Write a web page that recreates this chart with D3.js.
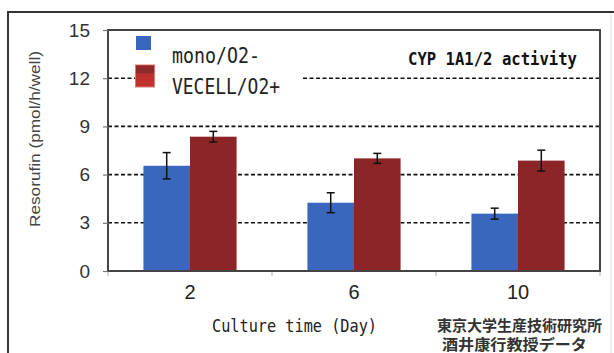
<!DOCTYPE html>
<html><head><meta charset="utf-8">
<script src="https://cdn.jsdelivr.net/npm/d3@7"></script>
<style>html,body{margin:0;padding:0;background:#fff;}svg{display:block;}</style>
</head><body>
<script>
const categories = ["2", "6", "10"];
const seriesNames = ["mono/O2-", "VECELL/O2+"];
const monoValues = [6.55, 4.25, 3.57];
const monoErrors = [0.82, 0.62, 0.34];
const vecellValues = [8.36, 7.01, 6.87];
const vecellErrors = [0.33, 0.31, 0.65];
const yTicks = [0, 3, 6, 9, 12, 15];
const gridTicks = [3, 6, 9, 12];
const colors = ["#3a67be", "#8c2626"];

const W = 614, H = 353;
const svg = d3.select("body").append("svg").attr("width", W).attr("height", H);
const mono = "'DejaVu Sans Mono', 'Liberation Mono', monospace";
const sans = "'Liberation Sans', Arial, sans-serif";

// outer frame
svg.append("line").attr("x1", 8).attr("x2", 8).attr("y1", 12).attr("y2", H).attr("stroke", "#333").attr("stroke-width", 2);
svg.append("line").attr("x1", 7).attr("x2", W).attr("y1", 12).attr("y2", 12).attr("stroke", "#333").attr("stroke-width", 2);
svg.append("line").attr("x1", 611).attr("x2", 611).attr("y1", 13).attr("y2", H).attr("stroke", "#ddd").attr("stroke-width", 1);

const x = d3.scaleBand().domain(categories).range([108, 600]).paddingInner(0).paddingOuter(0);
const bw = x.bandwidth();
const x1 = d3.scaleBand().domain(seriesNames).range([bw * 0.216, bw * 0.784]).padding(0);
const y = d3.scaleLinear().domain([0, 15]).range([271, 30]);

// gridlines
svg.append("g").selectAll("line").data(gridTicks).join("line")
  .attr("x1", 108).attr("x2", 600)
  .attr("y1", d => y(d)).attr("y2", d => y(d))
  .attr("stroke", "#111").attr("stroke-width", 1.6).attr("stroke-dasharray", "4,2.5");

// legend background gap
svg.append("rect").attr("x", 153).attr("y", 33).attr("width", 149).attr("height", 64).attr("fill", "#fff");

// bars
const data = categories.map((c, i) => ({
  cat: c,
  vals: [
    {s: seriesNames[0], v: monoValues[i], e: monoErrors[i], c: colors[0]},
    {s: seriesNames[1], v: vecellValues[i], e: vecellErrors[i], c: colors[1]}
  ]
}));
const groups = svg.append("g").selectAll("g").data(data).join("g")
  .attr("transform", d => `translate(${x(d.cat)},0)`);
groups.selectAll("rect").data(d => d.vals).join("rect")
  .attr("x", d => x1(d.s)).attr("width", x1.bandwidth())
  .attr("y", d => y(d.v)).attr("height", d => y(0) - y(d.v))
  .attr("fill", d => d.c);
// error bars
const eb = groups.selectAll("g.eb").data(d => d.vals).join("g").attr("class", "eb")
  .attr("stroke", "#111").attr("stroke-width", 1.5);
eb.append("line")
  .attr("x1", d => x1(d.s) + x1.bandwidth() / 2).attr("x2", d => x1(d.s) + x1.bandwidth() / 2)
  .attr("y1", d => y(d.v + d.e)).attr("y2", d => y(d.v - d.e));
eb.append("line")
  .attr("x1", d => x1(d.s) + x1.bandwidth() / 2 - 4).attr("x2", d => x1(d.s) + x1.bandwidth() / 2 + 4)
  .attr("y1", d => y(d.v + d.e)).attr("y2", d => y(d.v + d.e));
eb.append("line")
  .attr("x1", d => x1(d.s) + x1.bandwidth() / 2 - 4).attr("x2", d => x1(d.s) + x1.bandwidth() / 2 + 4)
  .attr("y1", d => y(d.v - d.e)).attr("y2", d => y(d.v - d.e));

// plot frame
svg.append("rect").attr("x", 108).attr("y", 30).attr("width", 492).attr("height", 241)
  .attr("fill", "none").attr("stroke", "#444").attr("stroke-width", 2);

// y axis
const yAxis = svg.append("g").attr("transform", "translate(108,0)")
  .call(d3.axisLeft(y).tickValues(yTicks).tickSize(5).tickPadding(13).tickFormat(d3.format("d")));
yAxis.select(".domain").remove();
yAxis.selectAll(".tick line").attr("stroke", "#777").attr("stroke-width", 1.2);
yAxis.selectAll("text").attr("font-family", sans).attr("font-size", 19).attr("fill", "#333");

// x axis ticks at band boundaries
const xb = categories.map(c => x(c)).concat([600]);
svg.append("g").selectAll("line").data(xb).join("line")
  .attr("x1", d => d).attr("x2", d => d).attr("y1", 272).attr("y2", 276)
  .attr("stroke", "#bbb").attr("stroke-width", 1.2);
const xAxis = svg.append("g").attr("transform", "translate(0,271)")
  .call(d3.axisBottom(x).tickSize(0).tickPadding(14));
xAxis.select(".domain").remove();
xAxis.selectAll("text").attr("font-family", sans).attr("font-size", 20).attr("fill", "#222");

// y axis title
svg.append("text").attr("transform", "translate(40,139) rotate(-90)")
  .attr("text-anchor", "middle").attr("font-family", sans).attr("font-size", 15).attr("fill", "#444")
  .attr("textLength", 176).attr("lengthAdjust", "spacingAndGlyphs")
  .text("Resorufin (pmol/h/well)");

// x axis title
svg.append("text").attr("x", 212).attr("y", 332).attr("font-family", mono).attr("font-size", 18.5).attr("fill", "#222")
  .attr("textLength", 165).attr("lengthAdjust", "spacingAndGlyphs").text("Culture time (Day)");

// chart title
svg.append("text").attr("x", 408).attr("y", 65).attr("font-family", mono).attr("font-weight", "bold")
  .attr("font-size", 18).attr("fill", "#111")
  .attr("textLength", 169).attr("lengthAdjust", "spacingAndGlyphs").text("CYP 1A1/2 activity");

// legend
svg.append("rect").attr("x", 136).attr("y", 36).attr("width", 15).attr("height", 14).attr("fill", colors[0]);
svg.append("rect").attr("x", 135.5).attr("y", 65).attr("width", 19).attr("height", 22).attr("fill", "#c0302e").attr("stroke", "#e07a70").attr("stroke-width", 1);
svg.append("rect").attr("x", 136).attr("y", 65.5).attr("width", 18).attr("height", 8).attr("fill", "#8e2a2a");
svg.append("text").attr("x", 172).attr("y", 63).attr("font-family", mono).attr("font-size", 21).attr("fill", "#222")
  .attr("textLength", 88).attr("lengthAdjust", "spacingAndGlyphs").text(seriesNames[0]);
svg.append("text").attr("x", 172).attr("y", 94).attr("font-family", mono).attr("font-size", 21).attr("fill", "#222")
  .attr("textLength", 108).attr("lengthAdjust", "spacingAndGlyphs").text(seriesNames[1]);

// credit
const jp = "'Noto Sans CJK JP', sans-serif";
svg.append("text").attr("x", 437).attr("y", 331).attr("font-family", jp).attr("font-weight", "bold").attr("font-size", 15).attr("fill", "#333")
  .attr("textLength", 165).attr("lengthAdjust", "spacingAndGlyphs").text("東京大学生産技術研究所");
svg.append("text").attr("x", 442).attr("y", 350).attr("font-family", jp).attr("font-weight", "bold").attr("font-size", 15).attr("fill", "#333")
  .attr("textLength", 145).attr("lengthAdjust", "spacingAndGlyphs").text("酒井康行教授データ");
</script>
</body></html>
